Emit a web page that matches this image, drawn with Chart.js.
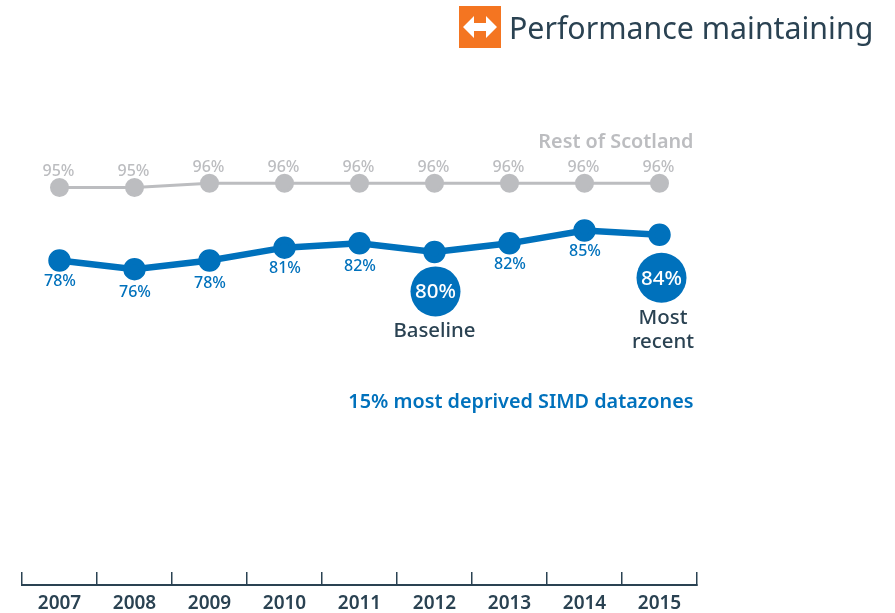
<!DOCTYPE html>
<html><head><meta charset="utf-8">
<style>
html,body{margin:0;padding:0;background:#fff;width:895px;height:613px;overflow:hidden}
#wrap{position:relative;width:895px;height:613px}
canvas{position:absolute;left:0;top:0}
#icon{position:absolute;left:459px;top:6px;width:42px;height:42px}
#head{position:absolute;left:509px;top:7px;font:30.3px "Noto Sans",sans-serif;color:#2A4252;white-space:nowrap;line-height:42px}
</style>
<script src="https://cdn.jsdelivr.net/npm/chart.js@4"></script>
</head><body><div id="wrap">
<canvas id="c" width="895" height="613"></canvas>
<svg id="icon" viewBox="0 0 42 42"><rect width="42" height="42" fill="#F47521"/><path d="M4 21 L15 10 V17 H27 V10 L38 21 L27 32 V25 H15 V32 Z" fill="#fff"/></svg>
<div id="head">Performance maintaining</div>
</div>
<script>
const years = ['2007','2008','2009','2010','2011','2012','2013','2014','2015'];
const restOfScotland = [95,95,96,96,96,96,96,96,96];
const deprived = [78,76,78,81,82,80,82,85,84];
const restName = 'Rest of Scotland';
const deprivedName = '15% most deprived SIMD datazones';
const calloutIndexes = [5,8];
const calloutCaptions = [['Baseline'],['Most','recent']];

const BLUE='#0071BC', GREY='#BCBDC0', DARK='#2A4252', FONT='"Noto Sans",sans-serif';
const lowerLabelIdx=[1,2,4];

const annot={id:'annot',afterDatasetsDraw(ch){
  const c=ch.ctx,g=ch.getDatasetMeta(0).data,b=ch.getDatasetMeta(1).data;
  c.save();c.textAlign='center';c.textBaseline='middle';
  c.font='500 16px '+FONT;c.fillStyle=GREY;
  g.forEach((p,i)=>c.fillText(restOfScotland[i]+'%',p.x-1,p.y-16));
  c.fillStyle=BLUE;
  b.forEach((p,i)=>{
    if(calloutIndexes.includes(i))return;
    c.fillText(deprived[i]+'%',p.x+0.5,p.y+(lowerLabelIdx.includes(i)?23:21));
  });
  calloutIndexes.forEach((idx,k)=>{
    const p=b[idx],dx=k?2:1,dy=k?43:39.5;
    c.fillStyle=BLUE;c.beginPath();c.arc(p.x+dx,p.y+dy,25,0,Math.PI*2);c.fill();
    c.fillStyle='#fff';c.font='500 20.5px '+FONT;
    c.fillText(deprived[idx]+'%',p.x+dx,p.y+dy+1);
    c.fillStyle=DARK;c.font='500 20.4px '+FONT;
    calloutCaptions[k].forEach((t,j)=>c.fillText(t,p.x+(k?3.5:0),p.y+dy+40+j*24));
  });
  c.textAlign='right';
  c.font='600 19.8px '+FONT;c.fillStyle=GREY;
  c.fillText(restName,693.5,142);
  c.fillStyle=BLUE;c.fillText(deprivedName,693.5,402);
  c.restore();
}};

new Chart(document.getElementById('c'),{
  type:'line',
  data:{labels:years,datasets:[
    {label:restName,data:restOfScotland,borderColor:GREY,backgroundColor:GREY,borderWidth:3,pointRadius:8,pointHoverRadius:8,tension:0},
    {label:deprivedName,data:deprived,borderColor:BLUE,backgroundColor:BLUE,borderWidth:6.5,pointRadius:8,pointHoverRadius:8,tension:0}
  ]},
  options:{
    responsive:false,animation:false,
    events:[],
    layout:{padding:{left:22,right:198,top:166,bottom:0}},
    plugins:{legend:{display:false},title:{display:false},tooltip:{enabled:false}},
    scales:{
      y:{display:false,min:2.5,max:100},
      x:{
        offset:true,
        afterFit(s){s.height=28;},
        grid:{offset:true,drawOnChartArea:false,drawTicks:true,tickLength:-13,color:DARK,lineWidth:1.5,tickColor:DARK,tickWidth:1.5},
        border:{display:true,color:DARK,width:2},
        ticks:{color:DARK,font:{family:FONT,size:19,weight:'600'},padding:20,maxRotation:0,autoSkip:false}
      }
    }
  },
  plugins:[annot]
});
</script></body></html>
